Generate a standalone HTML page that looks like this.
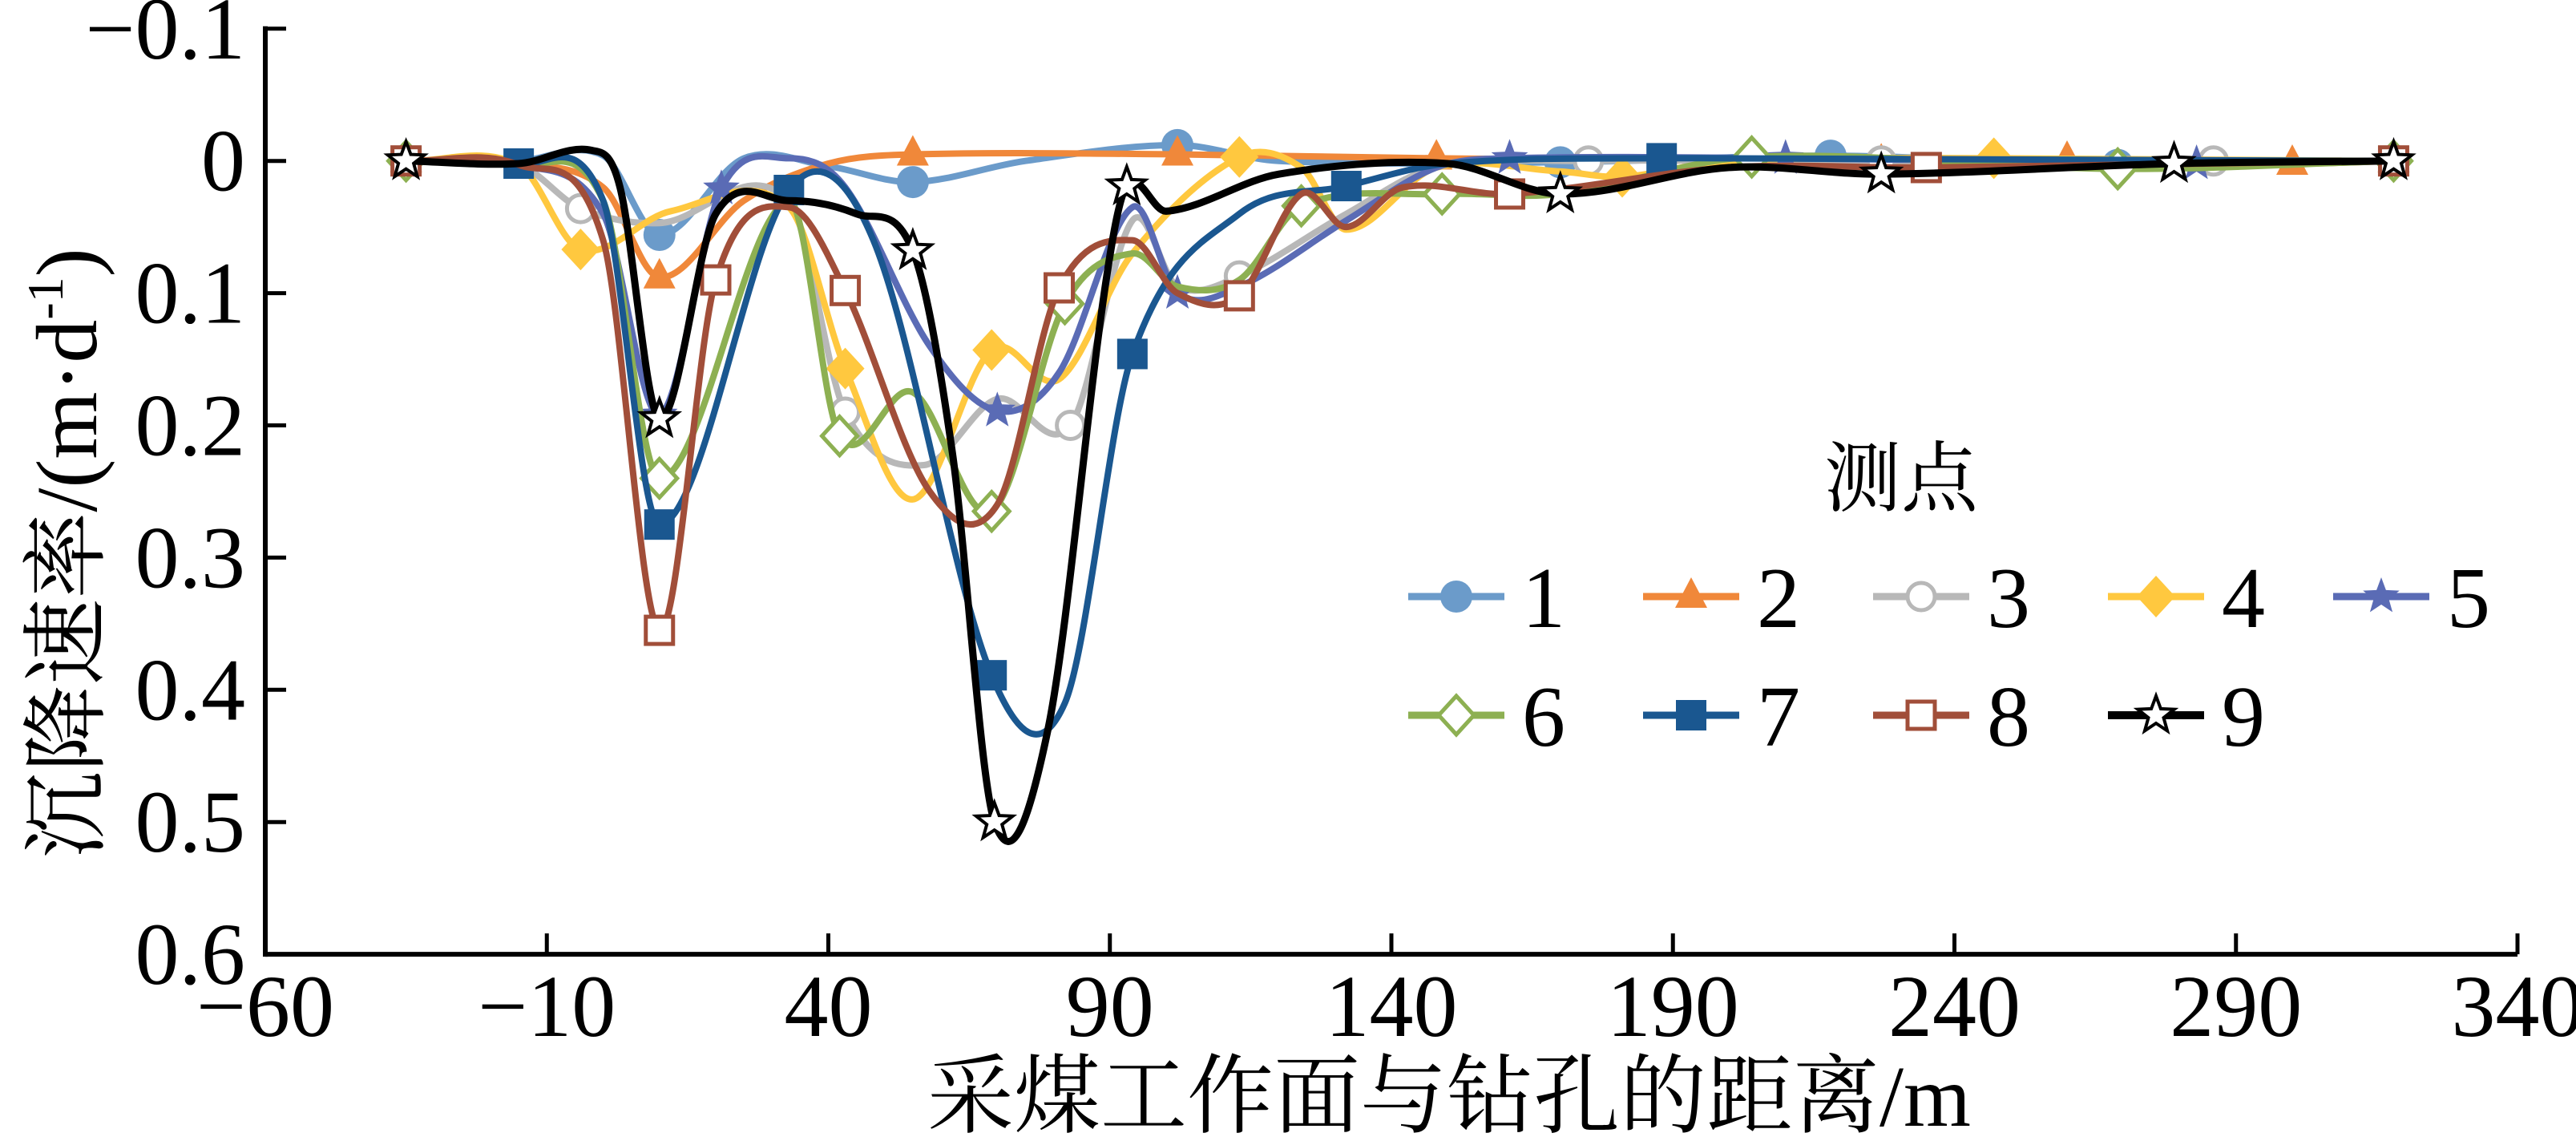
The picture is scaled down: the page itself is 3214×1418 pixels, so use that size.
<!DOCTYPE html>
<html><head><meta charset="utf-8"><style>
html,body{margin:0;padding:0;background:#fff;}
svg{display:block;}
text{font-family:"Liberation Serif","Noto Serif CJK SC",serif;fill:#000;}
</style></head><body>
<svg id="chart" width="3214" height="1418" viewBox="0 0 3214 1418" xmlns="http://www.w3.org/2000/svg">
<g id="plot"></g>
<g id="axes"></g>
<g id="legend"></g>
<text transform="translate(120,690) rotate(-90)" text-anchor="middle" font-size="108">沉降速率/(m·d<tspan font-size="64" dy="-42">-1</tspan><tspan dy="42">)</tspan></text>
<text x="1808" y="1404" text-anchor="middle" font-size="108">采煤工作面与钻孔的距离/m</text>
</svg>
<script>
const xTicks=[-60,-10,40,90,140,190,240,290,340];
const yTicks=[-0.1,0,0.1,0.2,0.3,0.4,0.5,0.6];
const yTickLabels=["−0.1","0","0.1","0.2","0.3","0.4","0.5","0.6"];
const seriesNames=["1","2","3","4","5","6","7","8","9"];
// points: [x, rate, marker(1)/hidden(0)]
const s1=[[-35,0,1],[-15,0,0],[0,-0.004,0],[10,0.056,1],[25,-0.002,0],[40,0.004,0],[55,0.016,1],[75,0,0],[102,-0.012,1],[120,0,0],[170,0.001,1],[218,-0.004,1],[269,0.003,1],[318,0,1]];
const s2=[[-35,0,1],[-15,0.002,0],[0,0.02,0],[10,0.088,1],[25,0.03,0],[40,0.002,0],[55,-0.005,1],[102,-0.005,1],[148,-0.002,1],[227,0.001,1],[260,-0.001,1],[300,0.002,1],[318,0,1]];
const s3=[[-35,0,1],[-15,0.003,0],[-4,0.036,1],[10,0.047,0],[33,0.03,0],[43,0.19,1],[57,0.23,0],[70,0.18,0],[83,0.2,1],[94,0.045,0],[102,0.095,0],[113,0.087,1],[132,0.04,0],[148,0.005,0],[175,0,1],[227,0,1],[286,0,1],[318,0,1]];
const s4=[[-35,0,1],[-15,0.003,0],[-4,0.067,1],[12,0.038,0],[33,0.035,0],[43,0.157,1],[55,0.256,0],[69,0.143,1],[81,0.165,0],[94,0.07,0],[113,-0.003,1],[124,0.005,0],[132,0.052,0],[148,0.005,0],[170,0.008,0],[181,0.012,1],[200,0,0],[247,-0.002,1],[318,0,1]];
const s5=[[-35,0,1],[-15,0.003,0],[0,0.04,0],[10,0.192,1],[21,0.021,1],[33,-0.002,0],[43,0.02,0],[58,0.14,0],[70,0.189,1],[81,0.16,0],[94,0.035,0],[102,0.1,1],[113,0.095,0],[132,0.045,0],[148,0.005,0],[161,-0.002,1],[210,-0.002,1],[283,0.002,1],[318,0,1]];
const s6=[[-35,0,1],[-15,0.003,0],[0,0.03,0],[10,0.24,1],[33,0.03,0],[42,0.208,1],[55,0.175,0],[69,0.265,1],[82,0.108,1],[94,0.07,0],[102,0.095,0],[113,0.09,0],[124,0.034,1],[149,0.025,1],[170,0.025,0],[204,-0.003,1],[269,0.006,1],[318,0,1]];
const s7=[[-35,0,1],[-15,0.002,1],[0,0.03,0],[10,0.275,1],[33,0.022,1],[48,0.06,0],[69,0.389,1],[82,0.41,0],[94,0.146,1],[113,0.04,0],[132,0.019,1],[150,0.002,0],[188,-0.002,1],[318,0,1]];
const s8=[[-35,0,1],[-15,0.003,0],[0,0.06,0],[10,0.355,1],[20,0.09,1],[33,0.035,0],[43,0.098,1],[58,0.25,0],[70,0.26,0],[81,0.096,1],[94,0.06,0],[102,0.1,0],[113,0.102,1],[124,0.025,0],[132,0.05,0],[142,0.02,0],[161,0.025,1],[200,0.005,0],[235,0.005,1],[318,0,1]];
const s9=[[-35,0,1],[-15,0.002,0],[-2,-0.008,0],[3,0.02,0],[10,0.195,1],[20,0.04,0],[33,0.03,0],[45,0.04,0],[55,0.068,1],[62,0.22,0],[69.5,0.5,1],[79,0.43,0],[89,0.1,0],[93,0.019,1],[100,0.038,0],[120,0.01,0],[150,0.002,0],[170,0.025,1],[200,0.005,0],[227,0.01,1],[279,0.002,1],[318,0,1]];
const allSeries=[s1,s2,s3,s4,s5,s6,s7,s8,s9];

const colors=["#6B9BCA","#F0883A","#B8B8B8","#FFC83F","#5A6BB5","#8DB052","#1A5790","#A14E39","#000000"];
const markers=["circle","triangle","ocircle","diamond","star","odiamond","square","osquare","ostar"];
const NS="http://www.w3.org/2000/svg";
const X0=331,XS=7.025,Y0=200.7,YS=1649;
const xp=x=>X0+(x+60)*XS;
const yp=v=>Y0+v*YS;
function mk(tag,attrs,parent){const e=document.createElementNS(NS,tag);for(const k in attrs)e.setAttribute(k,attrs[k]);parent.appendChild(e);return e;}
const axes=document.getElementById('axes'),plot=document.getElementById('plot'),legend=document.getElementById('legend');
const xa=mk('line',{x1:X0,y1:yp(0.6),x2:xp(340),y2:yp(0.6),stroke:'#000','stroke-width':6},axes);


const ya=mk('line',{x1:X0,y1:yp(-0.1)-3,x2:X0,y2:yp(0.6)+3,stroke:'#000','stroke-width':6},axes);


xTicks.forEach(t=>{
  const l=mk('line',{x1:xp(t),y1:yp(0.6),x2:xp(t),y2:yp(0.6)-26,stroke:'#000','stroke-width':5},axes);
  
  
  const tx=mk('text',{x:xp(t),y:1292,'text-anchor':'middle','font-size':110},axes);
  
  
  tx.textContent=t<0?('−'+(-t)):String(t);
});
yTicks.forEach((t,i)=>{
  const l=mk('line',{x1:X0,y1:yp(t),x2:X0+26,y2:yp(t),stroke:'#000','stroke-width':5},axes);
  
  
  const tx=mk('text',{x:306,y:yp(t)+37,'text-anchor':'end','font-size':110},axes);
  
  
  tx.textContent=yTickLabels[i];
});
function pathFor(pts){
  const P=pts.map(p=>[xp(p[0]),yp(p[1])]);
  const n=P.length,m=[];
  for(let i=0;i<n;i++){
    if(i===0)m.push((P[1][1]-P[0][1])/(P[1][0]-P[0][0]));
    else if(i===n-1)m.push((P[n-1][1]-P[n-2][1])/(P[n-1][0]-P[n-2][0]));
    else m.push((P[i+1][1]-P[i-1][1])/(P[i+1][0]-P[i-1][0]));
  }
  let d='M'+P[0][0].toFixed(1)+','+P[0][1].toFixed(1);
  for(let i=0;i<n-1;i++){
    const h=(P[i+1][0]-P[i][0])/3;
    d+=' C'+(P[i][0]+h).toFixed(1)+','+(P[i][1]+m[i]*h).toFixed(1)+' '+(P[i+1][0]-h).toFixed(1)+','+(P[i+1][1]-m[i+1]*h).toFixed(1)+' '+P[i+1][0].toFixed(1)+','+P[i+1][1].toFixed(1);
  }
  return d;
}
function starPts(cx,cy,R,r){let s=[];for(let k=0;k<10;k++){const a=-Math.PI/2+k*Math.PI/5,rr=k%2?r:R;s.push((cx+rr*Math.cos(a)).toFixed(1)+','+(cy+rr*Math.sin(a)).toFixed(1));}return s.join(' ');}
function drawMarker(type,cx,cy,col,g,sc){
  sc=sc||1;let e;
  switch(type){
    case 'circle':e=mk('circle',{cx,cy,r:20*sc,fill:col},g);break;
    case 'ocircle':e=mk('circle',{cx,cy,r:17*sc,fill:'#fff',stroke:col,'stroke-width':5},g);break;
    case 'triangle':e=mk('polygon',{points:`${cx},${cy-24*sc} ${cx+20*sc},${cy+14*sc} ${cx-20*sc},${cy+14*sc}`,fill:col},g);break;
    case 'diamond':e=mk('polygon',{points:`${cx},${cy-26*sc} ${cx+24*sc},${cy} ${cx},${cy+26*sc} ${cx-24*sc},${cy}`,fill:col},g);break;
    case 'odiamond':e=mk('polygon',{points:`${cx},${cy-24*sc} ${cx+22*sc},${cy} ${cx},${cy+24*sc} ${cx-22*sc},${cy}`,fill:'#fff',stroke:col,'stroke-width':5},g);break;
    case 'square':e=mk('rect',{x:cx-19*sc,y:cy-19*sc,width:38*sc,height:38*sc,fill:col},g);break;
    case 'osquare':e=mk('rect',{x:cx-17*sc,y:cy-17*sc,width:34*sc,height:34*sc,fill:'#fff',stroke:col,'stroke-width':5},g);break;
    case 'star':e=mk('polygon',{points:starPts(cx,cy,24*sc,10*sc),fill:col},g);break;
    case 'ostar':e=mk('polygon',{points:starPts(cx,cy,24*sc,10*sc),fill:'#fff',stroke:col,'stroke-width':4},g);break;
  }
  
  
}
allSeries.forEach((pts,si)=>{
  const g=mk('g',{},plot);
  
  
  const p=mk('path',{d:pathFor(pts),fill:'none',stroke:colors[si],'stroke-width':si===8?9:8,'stroke-linejoin':'round'},g);
  
  
  pts.forEach(q=>{if(q[2])drawMarker(markers[si],xp(q[0]),yp(q[1]),colors[si],g);});
});
const lt=mk('text',{x:2372,y:630,'text-anchor':'middle','font-size':96},legend);


lt.textContent='测点';
const legX=[1757,2050,2337,2630,2911,1757,2050,2337,2630];
const legY=[744,744,744,744,744,892,892,892,892];
seriesNames.forEach((nm,i)=>{
  const g=mk('g',{},legend);
  
  
  const l=mk('line',{x1:legX[i],y1:legY[i],x2:legX[i]+120,y2:legY[i],stroke:colors[i],'stroke-width':i===8?10:9},g);
  
  
  drawMarker(markers[i],legX[i]+60,legY[i],colors[i],g,1);
  const t=mk('text',{x:legX[i]+142,y:legY[i]+38,'font-size':108},g);
  
  
  t.textContent=nm;
});
</script>
</body></html>
